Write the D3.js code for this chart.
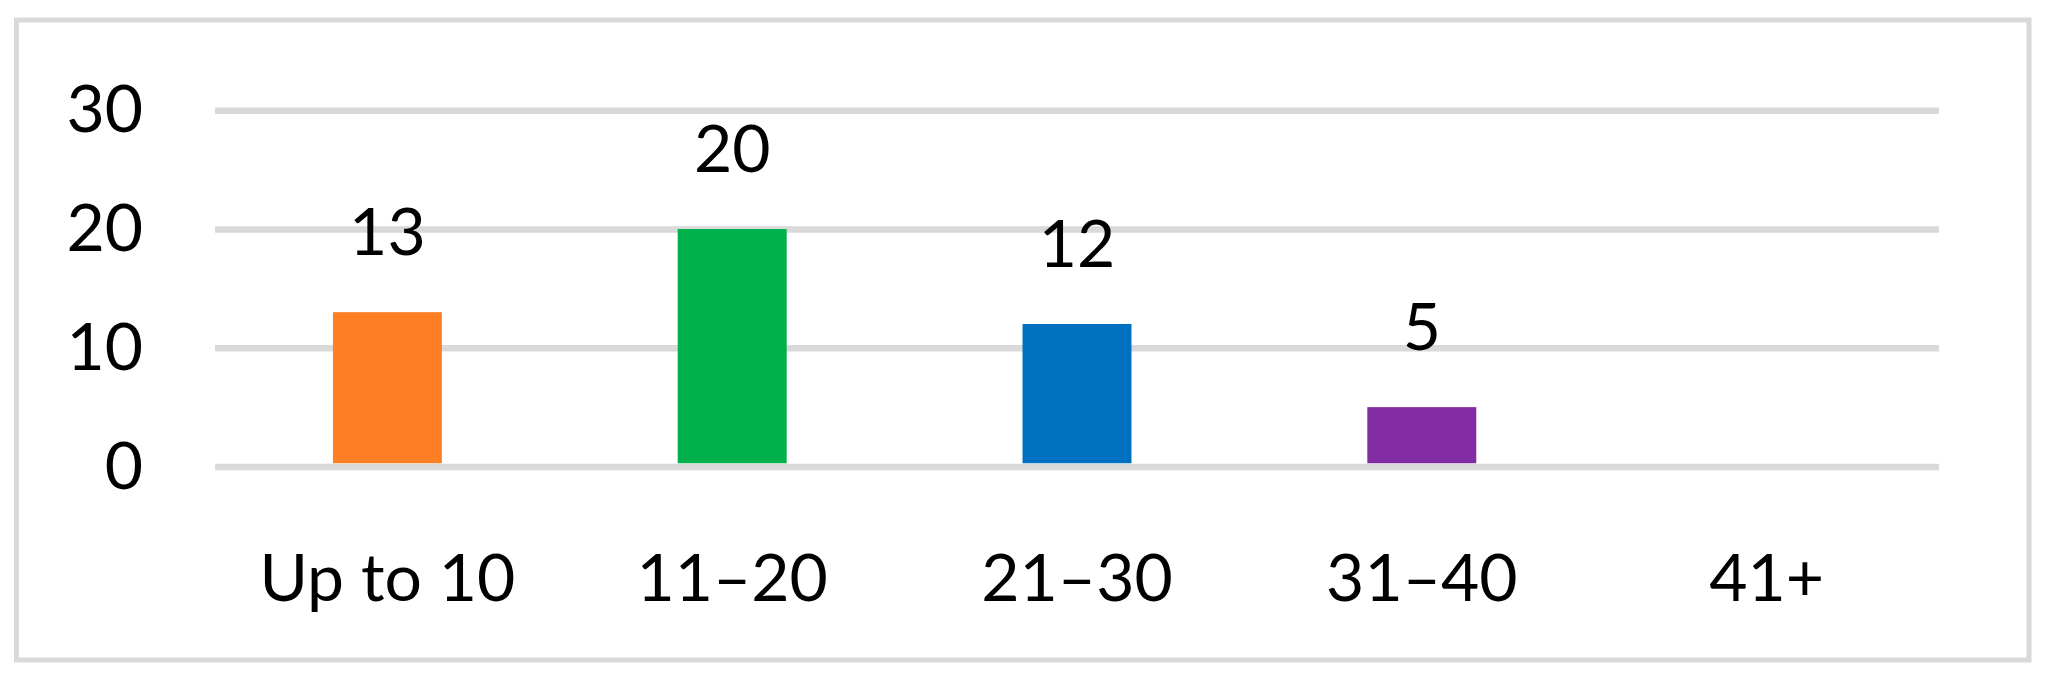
<!DOCTYPE html>
<html>
<head>
<meta charset="utf-8">
<script src="https://cdn.jsdelivr.net/npm/d3@7/dist/d3.min.js"></script>
<style>
  body { margin: 0; background: #fff; }
  svg text { font-family: Lato, "Open Sans", sans-serif; fill: #000; }
</style>
</head>
<body>
<svg></svg>
<script>
var categories = ["Up to 10", "11–20", "21–30", "31–40", "41+"];
var values = [13, 20, 12, 5, null];
var barColors = ["#ff7f27", "#00b04a", "#0070c0", "#822da3", "#a5a5a5"];
var yTicks = [0, 10, 20, 30];

var W = 2047, H = 676;
var plot = { left: 215, right: 1939, top: 110.3, bottom: 466.5 };
var gridW = 6.5;

var svg = d3.select("svg")
  .attr("width", W)
  .attr("height", H);

// outer frame
svg.append("rect")
  .attr("x", 16.5)
  .attr("y", 20)
  .attr("width", 2012.5)
  .attr("height", 640)
  .attr("fill", "#fff")
  .attr("stroke", "#d9d9d9")
  .attr("stroke-width", 5);

var x = d3.scaleBand()
  .domain(categories)
  .range([plot.left, plot.right])
  .paddingInner(0.684)
  .paddingOuter(0.342);

var y = d3.scaleLinear()
  .domain([0, 30])
  .range([plot.bottom, plot.top]);

// gridlines
var grid = svg.append("g")
  .attr("transform", "translate(" + plot.left + ",0)")
  .call(d3.axisLeft(y).tickValues(yTicks).tickSize(-(plot.right - plot.left)).tickFormat(""));
grid.select(".domain").remove();
grid.selectAll("line")
  .attr("stroke", "#d9d9d9")
  .attr("stroke-width", gridW);

// y labels
var yAxis = svg.append("g")
  .attr("transform", "translate(143,0)")
  .call(d3.axisLeft(y).tickValues(yTicks).tickSize(0).tickPadding(0));
yAxis.select(".domain").remove();
yAxis.selectAll("text")
  .attr("font-size", "66px")
  .attr("dy", null)
  .attr("y", 21.5)
  .style("font-family", "Lato, 'Open Sans', sans-serif");

var data = categories.map(function(c, i) {
  return { cat: c, value: values[i], color: barColors[i] };
});

// bars
svg.selectAll("rect.bar")
  .data(data.filter(function(d) { return d.value != null; }))
  .enter().append("rect")
  .attr("class", "bar")
  .attr("x", function(d) { return x(d.cat); })
  .attr("width", x.bandwidth())
  .attr("y", function(d) { return y(d.value); })
  .attr("height", function(d) { return y(0) - gridW / 2 - y(d.value); })
  .attr("fill", function(d) { return d.color; });

// data labels
svg.selectAll("text.lbl")
  .data(data.filter(function(d) { return d.value != null; }))
  .enter().append("text")
  .attr("class", "lbl")
  .attr("x", function(d) { return x(d.cat) + x.bandwidth() / 2; })
  .attr("y", function(d) { return y(d.value) - 57; })
  .attr("text-anchor", "middle")
  .attr("font-size", "66px")
  .text(function(d) { return d.value; });

// x labels
var xAxis = svg.append("g")
  .attr("transform", "translate(0,0)")
  .call(d3.axisBottom(x).tickSize(0).tickPadding(0));
xAxis.select(".domain").remove();
xAxis.selectAll("text")
  .attr("dy", null)
  .attr("y", 601)
  .attr("font-size", "66px")
  .style("font-family", "Lato, 'Open Sans', sans-serif");
</script>
</body>
</html>
